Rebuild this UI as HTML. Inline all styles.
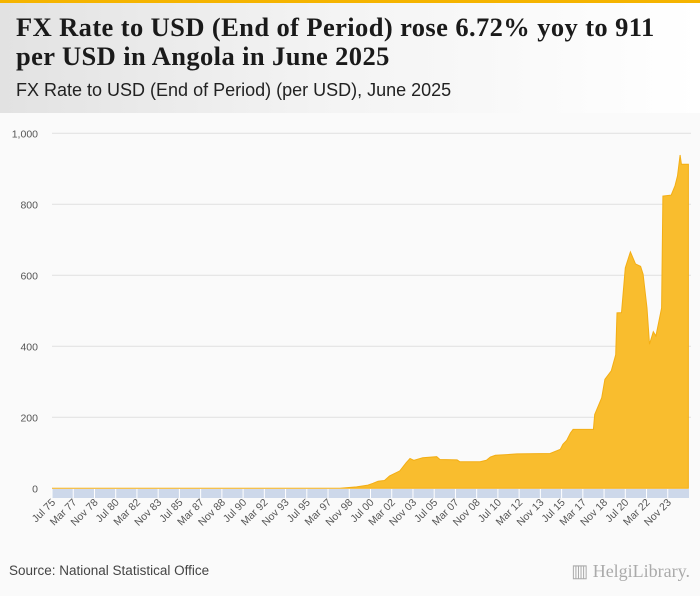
<!DOCTYPE html>
<html><head><meta charset="utf-8"><style>
body{margin:0;width:700px;height:596px;background:#fafafa;font-family:"Liberation Sans",sans-serif;overflow:hidden;position:relative}
#hdr{position:absolute;left:0;top:0;width:700px;height:113px;background:linear-gradient(90deg,#e2e2e2 0%,#f3f3f3 45%,#ffffff 100%)}
#bar{position:absolute;left:0;top:0;width:700px;height:3px;background:#f5b400}
#title{position:absolute;left:16px;top:13px;font-family:"Liberation Serif",serif;font-weight:bold;font-size:26.5px;line-height:29px;color:#1a1a1a;letter-spacing:0.4px}
#sub{position:absolute;left:16px;top:80px;font-size:18px;color:#222}
#src{position:absolute;left:9px;top:563px;font-size:13.5px;color:#444}
#logo{position:absolute;right:10px;top:561px;font-family:"Liberation Serif",serif;font-size:18px;color:#aaa}
svg{position:absolute;left:0;top:0}
</style></head><body>
<div id="hdr"></div>
<div id="bar"></div>
<div id="title">FX Rate to USD (End of Period) rose 6.72% yoy to 911<br>per USD in Angola in June 2025</div>
<div id="sub">FX Rate to USD (End of Period) (per USD), June 2025</div>
<svg id="chart" width="700" height="596"></svg>
<div id="src">Source: National Statistical Office</div>
<div id="logo">▥ HelgiLibrary.</div>
<script>
const years=[1975.5,1998.1,1999.4,2000.3,2000.7,2001.1,2001.6,2002.0,2002.8,2003.3,2003.6,2003.9,2004.6,2005.7,2005.95,2007.3,2007.5,2009.1,2009.6,2009.9,2010.3,2011.2,2012.0,2014.6,2015.4,2015.6,2015.9,2016.2,2016.4,2018.0,2018.1,2018.65,2018.9,2019.4,2019.75,2019.85,2020.2,2020.5,2020.9,2021.3,2021.7,2021.9,2022.2,2022.4,2022.7,2022.9,2023.35,2023.45,2024.1,2024.4,2024.6,2024.8,2024.9,2025.45];
const values=[0,0,4,9,14,20,22,35,49,72,84,79,86,89,81,80,75,75,79,88,93,95,97,98,110,124,135,156,166,166,208,255,307,331,376,494,495,621,666,632,625,603,508,406,441,429,508,823,826,852,880,939,913,913];
const yTicks=[0,200,400,600,800,1000];
const yTickLabels=["0","200","400","600","800","1,000"];
const xLabels=["Jul 75","Mar 77","Nov 78","Jul 80","Mar 82","Nov 83","Jul 85","Mar 87","Nov 88","Jul 90","Mar 92","Nov 93","Jul 95","Mar 97","Nov 98","Jul 00","Mar 02","Nov 03","Jul 05","Mar 07","Nov 08","Jul 10","Mar 12","Nov 13","Jul 15","Mar 17","Nov 18","Jul 20","Mar 22","Nov 23"];
const X0=52,X1=689,T0=1975.5,T1=2025.5,Y0=488.3,YS=0.3550;
const xs=t=>X0+(t-T0)/(T1-T0)*(X1-X0);
const ys=v=>Y0-v*YS;
const svg=document.getElementById('chart');const NS="http://www.w3.org/2000/svg";
function mk(tag,attrs){const e=document.createElementNS(NS,tag);for(const k in attrs)e.setAttribute(k,attrs[k]);svg.appendChild(e);return e;}
yTicks.forEach((v,i)=>{
 if(v>0){const g=mk('line',{x1:X0,x2:X1+2,y1:ys(v),y2:ys(v),stroke:'#e0e0e0','stroke-width':1});
 
 }
 const t=mk('text',{x:38,y:ys(v)+4,'text-anchor':'end','font-size':'10.5','fill':'#555','font-family':'Liberation Sans, sans-serif'});
 t.textContent=yTickLabels[i];
 
 
});
let d='M'+xs(years[0])+','+ys(0);
years.forEach((t,i)=>{d+=' L'+xs(t).toFixed(1)+','+ys(values[i]).toFixed(1);});
d+=' L'+xs(years[years.length-1])+','+ys(0)+' Z';
const area=mk('path',{d:d,fill:'#f9bd2e',stroke:'#f3ae14','stroke-width':1});


const band=mk('rect',{x:X0,y:489,width:X1-X0,height:9,fill:'#cdd8ea'});


xLabels.forEach((lab,i)=>{
 const t=T0+i*20/12;const x=xs(t);
 const tk=mk('line',{x1:x,x2:x,y1:489,y2:498,stroke:'#fff','stroke-width':1});
 
 
 const tx=mk('text',{x:x+4,y:503,'text-anchor':'end','font-size':'10.5','fill':'#555','font-family':'Liberation Sans, sans-serif',transform:'rotate(-45 '+(x+4)+' 503)'});
 tx.textContent=lab;
 
 
});
</script>
</body></html>
